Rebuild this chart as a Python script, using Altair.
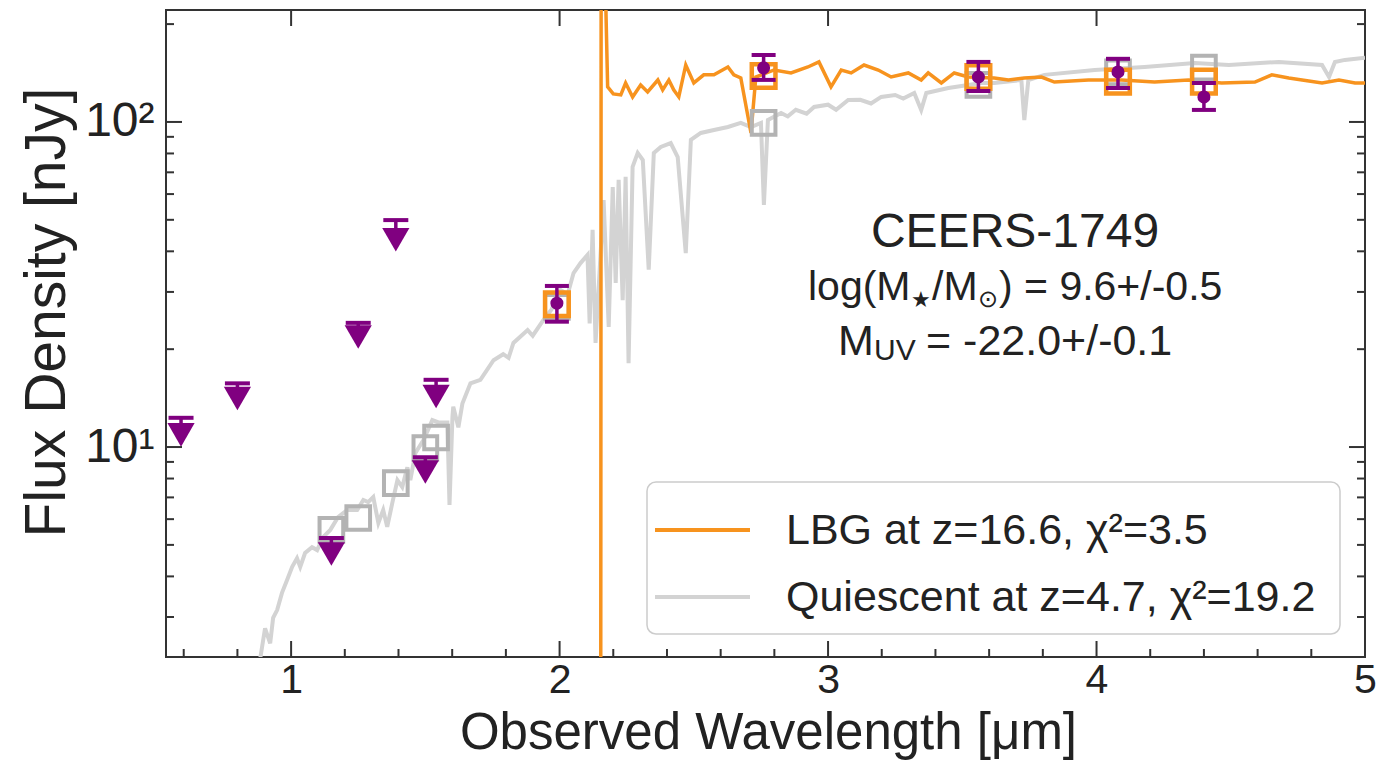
import altair as alt
import pandas as pd

# ---------------- data ----------------
# Quiescent template (grey), wavelength [um] and flux [nJy]
grey_wl = [0.878, 0.884, 0.903, 0.922, 0.933, 0.948, 0.966, 0.985, 1.004, 1.022,
           1.034, 1.052, 1.078, 1.097, 1.119, 1.146, 1.175, 1.209, 1.246, 1.269,
           1.287, 1.306, 1.325, 1.343, 1.358, 1.377, 1.396, 1.414, 1.433, 1.444,
           1.463, 1.493, 1.526, 1.549, 1.582, 1.590, 1.601, 1.604, 1.623, 1.638,
           1.668, 1.705, 1.754, 1.790, 1.810, 1.828, 1.881, 1.900, 1.940, 1.970,
           2.004, 2.030, 2.052, 2.078, 2.104, 2.112, 2.123, 2.134,
           2.164, 2.183, 2.198, 2.209, 2.220, 2.235, 2.246, 2.257, 2.272, 2.291,
           2.310, 2.332, 2.351, 2.377, 2.414, 2.440, 2.470, 2.489, 2.526, 2.575,
           2.627, 2.675, 2.713, 2.750, 2.761, 2.776, 2.825, 2.850, 2.880, 2.920,
           2.948, 3.000, 3.030, 3.075, 3.120, 3.160, 3.198, 3.250, 3.280,
           3.321, 3.347, 3.366, 3.448, 3.571, 3.619, 3.720, 3.731, 3.746, 3.806,
           3.993, 4.179, 4.366, 4.493, 4.679, 4.840, 4.866, 4.888, 4.925, 5.0]
grey_flux = [2.10, 2.21, 2.77, 2.49, 2.98, 3.15, 3.56, 3.90, 4.28, 4.55,
             4.28, 4.72, 4.92, 4.82, 5.28, 5.56, 6.09, 6.40, 6.40, 6.87,
             6.77, 7.02, 5.84, 6.40, 5.68, 6.73, 7.91, 7.53, 8.66, 7.91,
             9.59, 10.5, 12.1, 11.9, 11.9, 6.63, 12.4, 13.3, 11.5, 13.6,
             15.7, 16.1, 18.5, 19.3, 18.8, 20.9, 22.9, 22.0, 24.6, 26.5,
             30.4, 29.5, 34.3, 36.8, 39.0, 24.0, 46.6, 20.9,
             57.5, 23.4, 63.1, 32.0, 66.4, 28.3, 67.8, 18.1, 72.8, 80.3,
             76.4, 35.1, 80.3, 83.8, 86.1, 78.0, 39.5, 88.1, 92.5, 94.5,
             96.5, 99.3, 96.5, 99.3, 55.6, 101.4, 106.6, 104.0, 109.0, 106.0,
             111.2, 113.0, 109.0, 116.9, 117.0, 114.0, 119.4, 121.0, 118.0,
             122.8, 108.9, 122.8, 127.2, 131.8, 131.8, 134.6, 101.4, 134.6, 139.6,
             144.5, 147.6, 151.9, 149.7, 153.0, 149.7, 137.5, 153.0, 155.2, 157.5]

# LBG template (orange)
lbg_wl = [2.153, 2.155, 2.163, 2.179, 2.200, 2.228, 2.246, 2.272, 2.302, 2.328,
          2.366, 2.384, 2.407, 2.425, 2.444, 2.470, 2.500, 2.537, 2.575, 2.627,
          2.649, 2.675, 2.713, 2.731, 2.799, 2.862, 2.925, 2.966, 3.011, 3.049,
          3.086, 3.134, 3.187, 3.235, 3.299, 3.347, 3.373, 3.422, 3.470, 3.522,
          3.619, 3.672, 3.731, 3.795, 3.843, 3.970, 4.093, 4.216, 4.343, 4.466,
          4.590, 4.653, 4.716, 4.840, 4.903, 4.963, 5.0]
lbg_flux = [0.5, 600, 500, 128.2, 122.0, 121.1, 131.8, 119.4, 130.0, 123.7,
            134.6, 125.5, 134.6, 125.5, 119.4, 149.7, 131.8, 139.6, 139.6, 147.6,
            139.6, 136.5, 92.5, 137.5, 144.5, 141.5, 147.6, 153.0, 128.2, 144.5,
            141.5, 149.7, 144.5, 137.5, 141.5, 134.6, 141.5, 131.8, 141.5, 137.5,
            136.5, 134.6, 136.5, 137.5, 132.7, 134.6, 134.6, 132.7, 134.6, 131.8,
            132.7, 139.6, 136.5, 131.8, 134.6, 131.8, 131.8]

# model photometry (open squares)
lbg_phot_wl = [1.99, 2.76, 3.56, 4.08, 4.40]
lbg_phot_flux = [27.5, 138.5, 137.5, 133.0, 133.0]
q_phot_wl = [1.15, 1.25, 1.39, 1.50, 1.54, 1.99, 2.76, 3.56, 4.08, 4.40]
q_phot_flux = [5.56, 6.05, 7.74, 9.93, 10.7, 27.0, 99.3, 130.0, 142.0, 147.0]

# detections (purple)
det_wl = [1.99, 2.76, 3.56, 4.08, 4.40]
det_flux = [27.7, 146.7, 137.5, 142.5, 119.4]
det_lo = [24.3, 134.7, 124.5, 127.2, 108.9]
det_hi = [31.3, 160.7, 153.0, 156.4, 131.8]

# upper limits (purple down triangles)
ul_wl = [0.59, 0.80, 1.15, 1.25, 1.39, 1.50, 1.54]
ul_flux = [10.9, 14.1, 4.69, 21.8, 43.4, 8.38, 14.3]
ul_cap = [12.3, 15.7, 5.25, 24.1, 49.9, 9.31, 16.1]

# axis ticks
x_major = [1, 2, 3, 4, 5]
x_minor = [0.6, 0.8, 1.2, 1.4, 1.6, 1.8, 2.2, 2.4, 2.6, 2.8, 3.2, 3.4, 3.6, 3.8,
           4.2, 4.4, 4.6, 4.8]
y_major = [10, 100]
y_minor = [3, 4, 5, 6, 7, 8, 9, 20, 30, 40, 50, 60, 70, 80, 90, 200]

# texts
legend_labels = ["LBG at z=16.6, χ²=3.5", "Quiescent at z=4.7, χ²=19.2"]
obj_name = "CEERS-1749"
x_title = "Observed Wavelength [μm]"
y_title = "Flux Density [nJy]"

# ---------------- styling ----------------
ORANGE = "#F7931E"
GREY = "#D3D3D3"
GREY_SQ = "#B3B3B3"
PURPLE = "#800080"
INK = "#222222"
FONT = "Liberation Sans"
W, H = 1199, 647

xs = alt.Scale(domain=[0.534, 5.0], nice=False, zero=False)
ys = alt.Scale(type="log", domain=[2.26, 221], nice=False)

xaxis = alt.Axis(values=x_major, ticks=False, domain=False, grid=False,
                 labelFontSize=41, labelFont=FONT, labelColor=INK, labelPadding=3,
                 labelFlush=False, labelOverlap=False,
                 title=x_title, titleFont=FONT, titleFontSize=51,
                 titleFontWeight="normal", titleColor=INK,
                 titleX=602, titleY=91, titleAlign="center", titleBaseline="alphabetic")
yaxis = alt.Axis(values=y_major, ticks=False, domain=False, grid=False,
                 labelExpr="datum.value == 10 ? '10¹' : '10²'",
                 labelFontSize=48, labelFont=FONT, labelColor=INK, labelPadding=12,
                 labelFlush=False, labelOverlap=False,
                 title=y_title, titleFont=FONT, titleFontSize=57,
                 titleFontWeight="normal", titleColor=INK, titleAngle=-90,
                 titleX=-102, titleY=302, titleAlign="center", titleBaseline="alphabetic")


def X(field):
    return alt.X(field, type="quantitative", scale=xs, axis=xaxis)


def Y(field):
    return alt.Y(field, type="quantitative", scale=ys, axis=yaxis)


grey_df = pd.DataFrame({"wl": grey_wl, "flux": grey_flux})
lbg_df = pd.DataFrame({"wl": lbg_wl, "flux": lbg_flux})
lbgp_df = pd.DataFrame({"wl": lbg_phot_wl, "flux": lbg_phot_flux})
qp_df = pd.DataFrame({"wl": q_phot_wl, "flux": q_phot_flux})
det_df = pd.DataFrame({"wl": det_wl, "flux": det_flux, "lo": det_lo, "hi": det_hi})
ul_df = pd.DataFrame({"wl": ul_wl, "flux": ul_flux, "cap": ul_cap})
one = pd.DataFrame({"a": [0]})

layers = []
layers.append(alt.Chart(grey_df).mark_line(color=GREY, strokeWidth=4, clip=True)
              .encode(x=X("wl"), y=Y("flux")))
layers.append(alt.Chart(lbg_df).mark_line(color=ORANGE, strokeWidth=3.5, clip=True)
              .encode(x=X("wl"), y=Y("flux")))
layers.append(alt.Chart(qp_df).mark_point(shape="square", filled=False, size=560,
                                          strokeWidth=4, color=GREY_SQ, opacity=1)
              .encode(x=X("wl"), y=Y("flux")))
layers.append(alt.Chart(lbgp_df).mark_point(shape="square", filled=False, size=560,
                                            strokeWidth=4.5, color=ORANGE, opacity=1)
              .encode(x=X("wl"), y=Y("flux")))
# detections
layers.append(alt.Chart(det_df).mark_rule(color=PURPLE, strokeWidth=3.5)
              .encode(x=X("wl"), y=Y("lo"), y2="hi"))
for f in ["lo", "hi"]:
    layers.append(alt.Chart(det_df).mark_tick(color=PURPLE, orient="horizontal",
                                              size=24, thickness=4, opacity=1)
                  .encode(x=X("wl"), y=Y(f)))
layers.append(alt.Chart(det_df).mark_circle(color=PURPLE, size=170, opacity=1)
              .encode(x=X("wl"), y=Y("flux")))
# upper limits
layers.append(alt.Chart(ul_df).mark_rule(color=PURPLE, strokeWidth=3.5)
              .encode(x=X("wl"), y=Y("flux"), y2="cap"))
layers.append(alt.Chart(ul_df).mark_tick(color=PURPLE, orient="horizontal",
                                         size=25, thickness=4, opacity=1)
              .encode(x=X("wl"), y=Y("cap")))
layers.append(alt.Chart(ul_df).mark_point(shape="triangle-down", filled=True, size=740,
                                          color=PURPLE, opacity=1)
              .encode(x=X("wl"), y=Y("flux")))

# inward ticks on all sides
TK = dict(color="#333333", strokeWidth=2)
xmaj_df = pd.DataFrame({"v": x_major})
xmin_df = pd.DataFrame({"v": x_minor})
ymaj_df = pd.DataFrame({"v": y_major})
ymin_df = pd.DataFrame({"v": y_minor})
layers.append(alt.Chart(xmaj_df).mark_rule(**TK).encode(x=X("v"), y=alt.value(H), y2=alt.value(H - 16)))
layers.append(alt.Chart(xmin_df).mark_rule(**TK).encode(x=X("v"), y=alt.value(H), y2=alt.value(H - 8)))
layers.append(alt.Chart(xmaj_df).mark_rule(**TK).encode(x=X("v"), y=alt.value(0), y2=alt.value(16)))
layers.append(alt.Chart(ymaj_df).mark_rule(**TK).encode(y=Y("v"), x=alt.value(0), x2=alt.value(16)))
layers.append(alt.Chart(ymin_df).mark_rule(**TK).encode(y=Y("v"), x=alt.value(0), x2=alt.value(8)))
layers.append(alt.Chart(ymaj_df).mark_rule(**TK).encode(y=Y("v"), x=alt.value(W), x2=alt.value(W - 16)))
layers.append(alt.Chart(ymin_df).mark_rule(**TK).encode(y=Y("v"), x=alt.value(W), x2=alt.value(W - 8)))

# legend (drawn by hand)
layers.append(alt.Chart(one).mark_rect(fill="white", fillOpacity=0.85, stroke="#CCCCCC",
                                       strokeWidth=1.5, cornerRadius=9)
              .encode(x=alt.value(481), x2=alt.value(1174), y=alt.value(472), y2=alt.value(624)))
layers.append(alt.Chart(one).mark_rule(color=ORANGE, strokeWidth=4)
              .encode(x=alt.value(489), x2=alt.value(584), y=alt.value(520)))
layers.append(alt.Chart(one).mark_rule(color=GREY, strokeWidth=4)
              .encode(x=alt.value(489), x2=alt.value(584), y=alt.value(587)))
for i, yy in enumerate([534, 601]):
    layers.append(alt.Chart(one).mark_text(text=legend_labels[i], font=FONT, fontSize=43,
                                           color=INK, align="left", baseline="alphabetic")
                  .encode(x=alt.value(620), y=alt.value(yy)))


def txt(s, x, y, size, align="left"):
    return (alt.Chart(one).mark_text(text=s, font=FONT, fontSize=size, color=INK,
                                     align=align, baseline="alphabetic")
            .encode(x=alt.value(x), y=alt.value(y)))


# annotation
layers.append(txt(obj_name, 849, 237, 48, "center"))
layers.append(txt("log(M", 642, 290, 41))
layers.append(txt("★", 745, 297, 22))
layers.append(txt("/M", 766, 290, 41))
layers.append(txt("⊙", 812, 297, 24))
layers.append(txt(") = 9.6+/-0.5", 833, 290, 41))
layers.append(txt("M", 672, 345, 43))
layers.append(txt("UV", 708, 350, 30))
layers.append(txt("= -22.0+/-0.1", 760, 345, 43))

chart = (alt.layer(*layers)
         .properties(width=W, height=H,
                     autosize=alt.AutoSizeParams(type="none"),
                     padding={"left": 158, "top": 2, "right": 21, "bottom": 103})
         .configure_view(stroke="#333333", strokeWidth=2))

chart.save("out.html", embed_options={"renderer": "svg", "actions": False})
